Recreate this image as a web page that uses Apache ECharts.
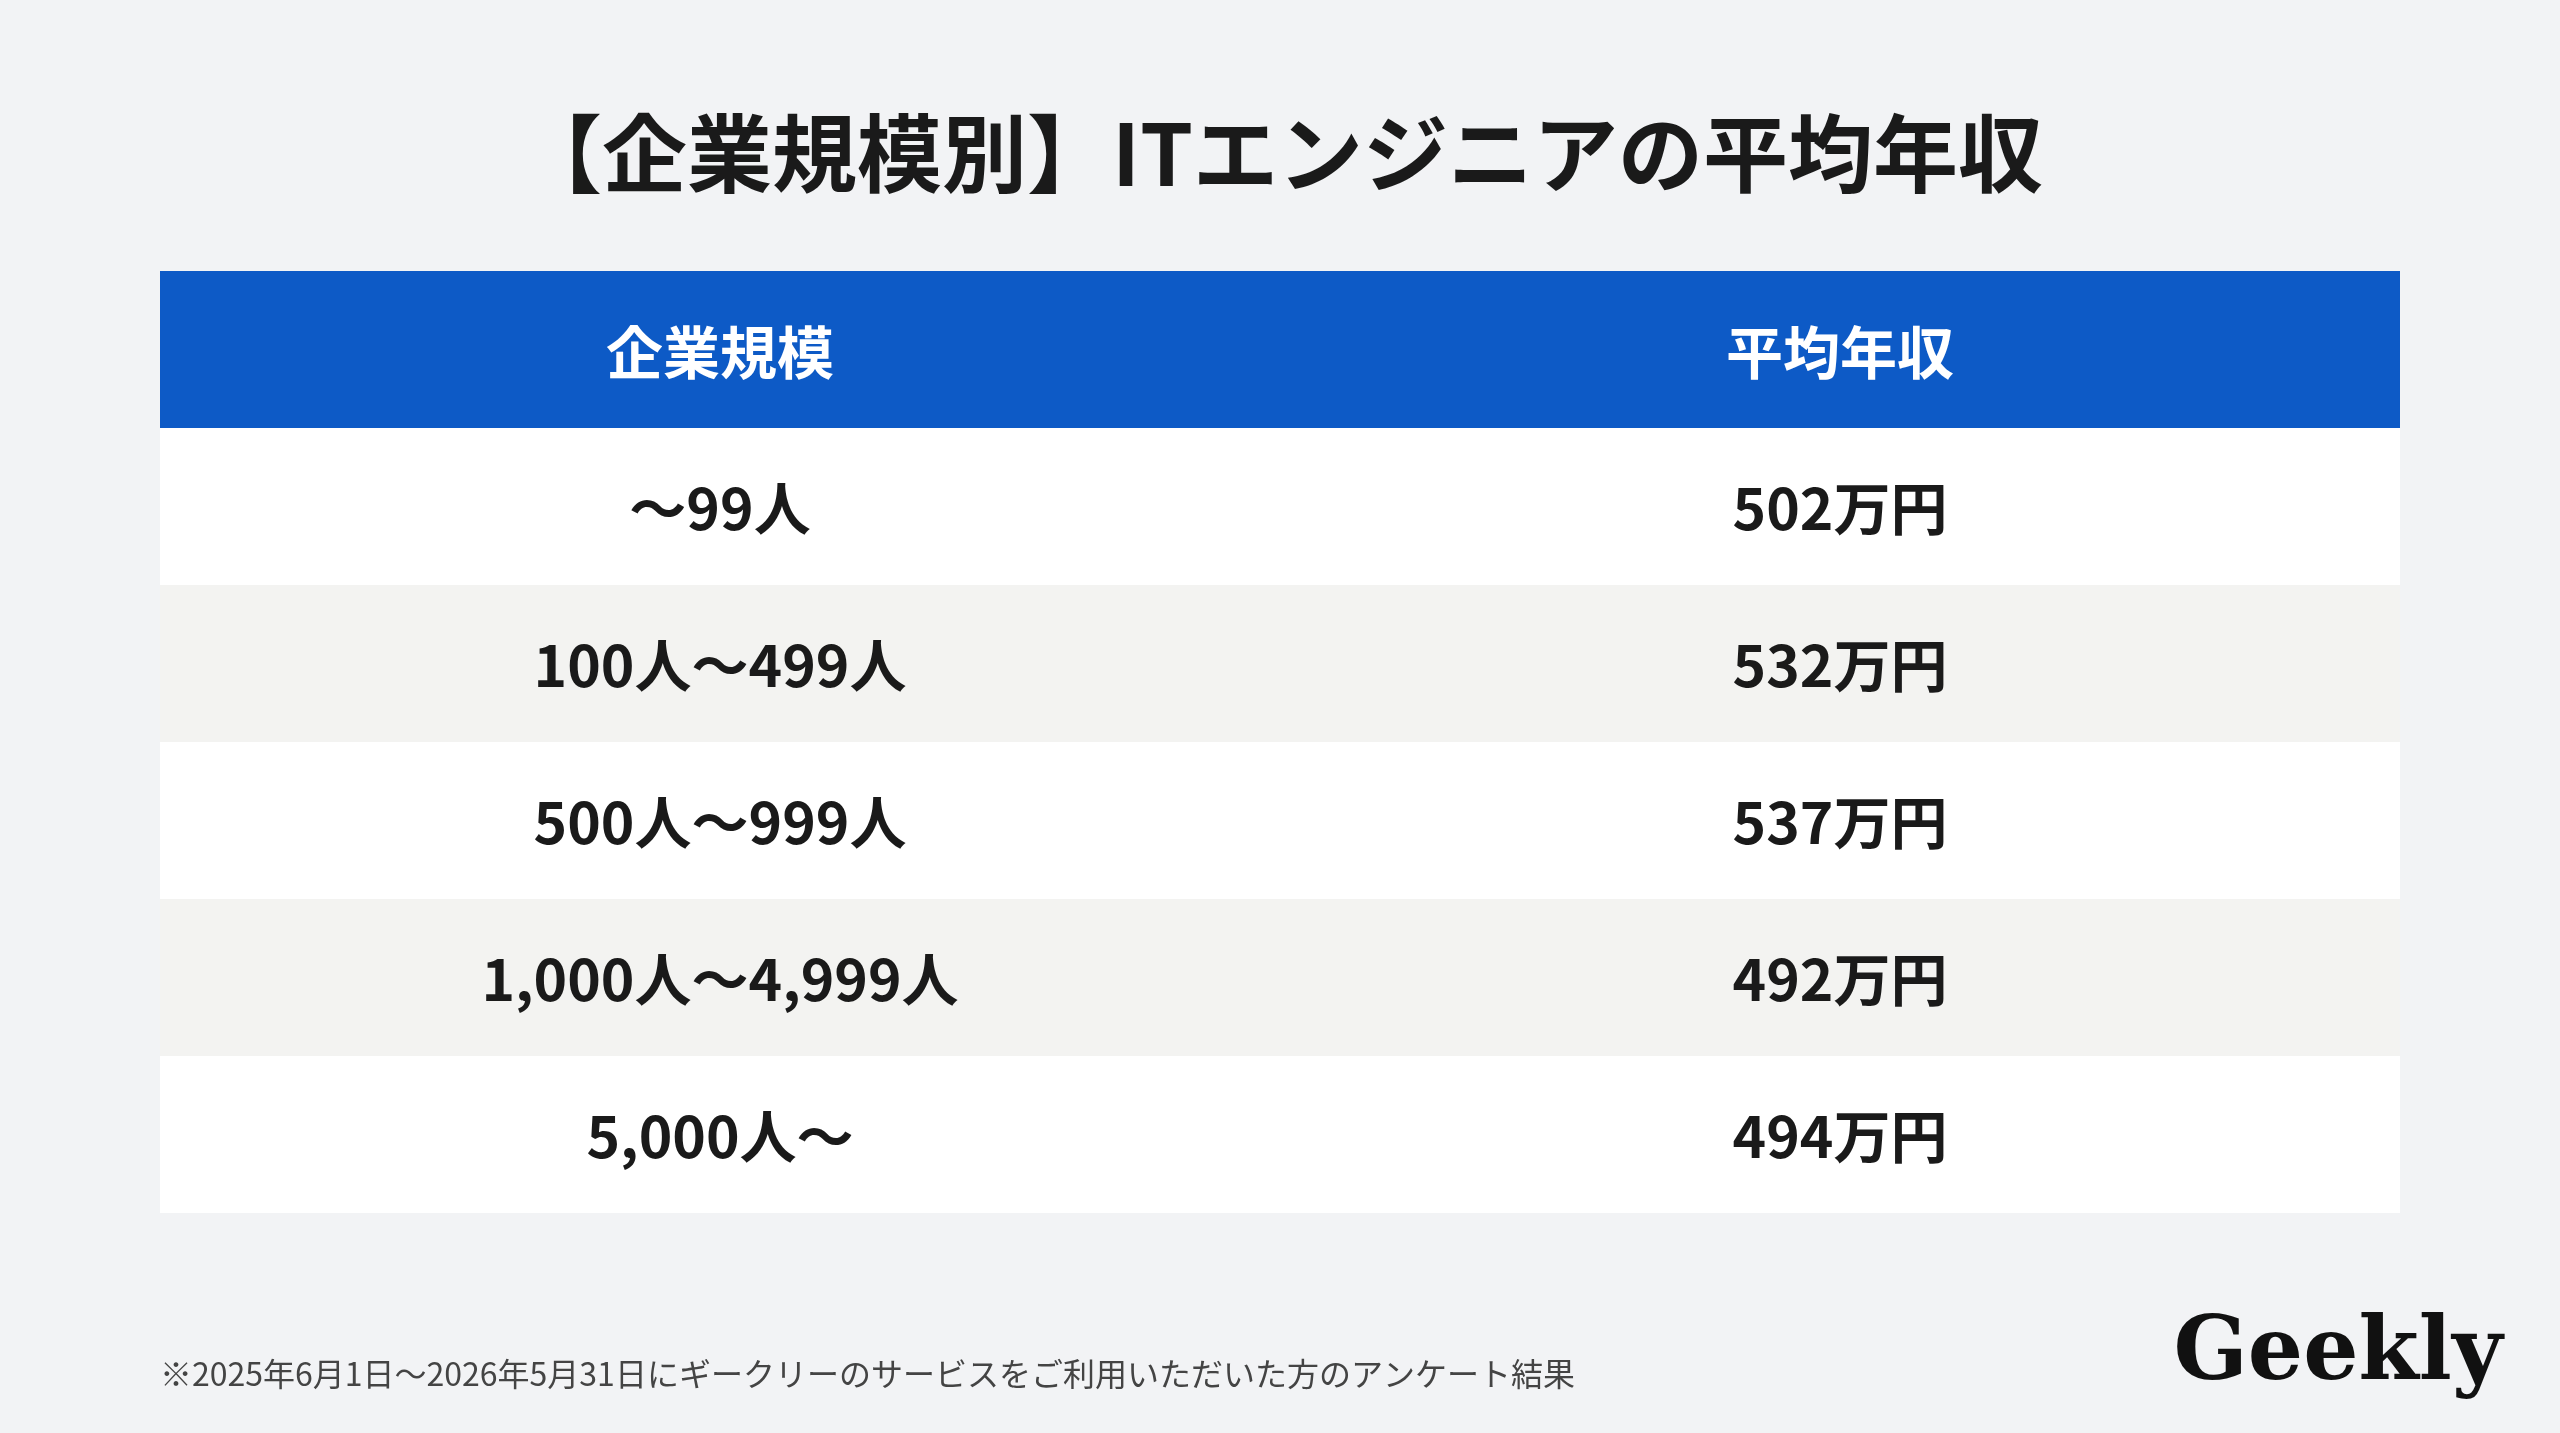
<!DOCTYPE html>
<html><head><meta charset="utf-8">
<script src="https://cdn.jsdelivr.net/npm/echarts@6/dist/echarts.min.js"></script>
<style>html,body{margin:0;padding:0;background:#f2f3f5}#c{width:2560px;height:1433px}</style>
</head><body><div id="c"></div>
<script>
const titleText = '【企業規模別】ITエンジニアの平均年収';
const headers = ['企業規模', '平均年収'];
const categories = ['〜99人', '100人〜499人', '500人〜999人', '1,000人〜4,999人', '5,000人〜'];
const salaries = [502, 532, 537, 492, 494];
const footnote = '※2025年6月1日〜2026年5月31日にギークリーのサービスをご利用いただいた方のアンケート結果';
const FONT = '"Noto Sans CJK JP", "Noto Sans", sans-serif';

const chart = echarts.init(document.getElementById('c'));
chart.setOption({
  backgroundColor: '#f2f3f5',
  title: { text: titleText, left: 'center', top: 106,
    textStyle: { fontFamily: FONT, fontSize: 85, fontWeight: 'bold', color: '#1a1a1a' } },
  grid: { left: 160, right: 160, top: 428, bottom: 220 },
  xAxis: { type: 'value', show: false, min: 0, max: 1 },
  yAxis: { type: 'category', data: categories, inverse: true, show: false },
  graphic: [
    { type: 'rect', shape: { x: 160, y: 271, width: 2240, height: 157 }, style: { fill: '#0d5ac6' } },
    { type: 'text', x: 720, y: 352, style: { text: headers[0], fill: '#fff', font: 'bold 57px ' + FONT, align: 'center', verticalAlign: 'middle' } },
    { type: 'text', x: 1840, y: 352, style: { text: headers[1], fill: '#fff', font: 'bold 57px ' + FONT, align: 'center', verticalAlign: 'middle' } },
    { type: 'text', x: 160, y: 1374, style: { text: footnote, fill: '#444', font: '32px ' + FONT, verticalAlign: 'middle' } },
    { type: 'text', x: 2338, y: 1356, style: { text: 'Geekly', fill: '#111', font: 'bold 87px "DejaVu Serif", serif', align: 'center', verticalAlign: 'middle' } }
  ],
  series: [{
    type: 'custom',
    data: salaries.map((v, i) => [i, v]),
    encode: { y: 0 },
    renderItem: function (params, api) {
      const i = api.value(0);
      const cs = params.coordSys;
      const c = api.coord([0, i]);
      const h = api.size([0, 1])[1];
      return { type: 'group', children: [
        { type: 'rect', shape: { x: cs.x, y: c[1] - h / 2, width: cs.width, height: h },
          style: { fill: i % 2 === 0 ? '#ffffff' : '#f3f3f1' } },
        { type: 'text', x: cs.x + cs.width * 0.25, y: c[1] + 2,
          style: { text: categories[i], fill: '#1a1a1a', font: 'bold 57px ' + FONT, align: 'center', verticalAlign: 'middle' } },
        { type: 'text', x: cs.x + cs.width * 0.75, y: c[1] + 2,
          style: { text: api.value(1) + '万円', fill: '#1a1a1a', font: 'bold 57px ' + FONT, align: 'center', verticalAlign: 'middle' } }
      ]};
    }
  }]
});
</script></body></html>
